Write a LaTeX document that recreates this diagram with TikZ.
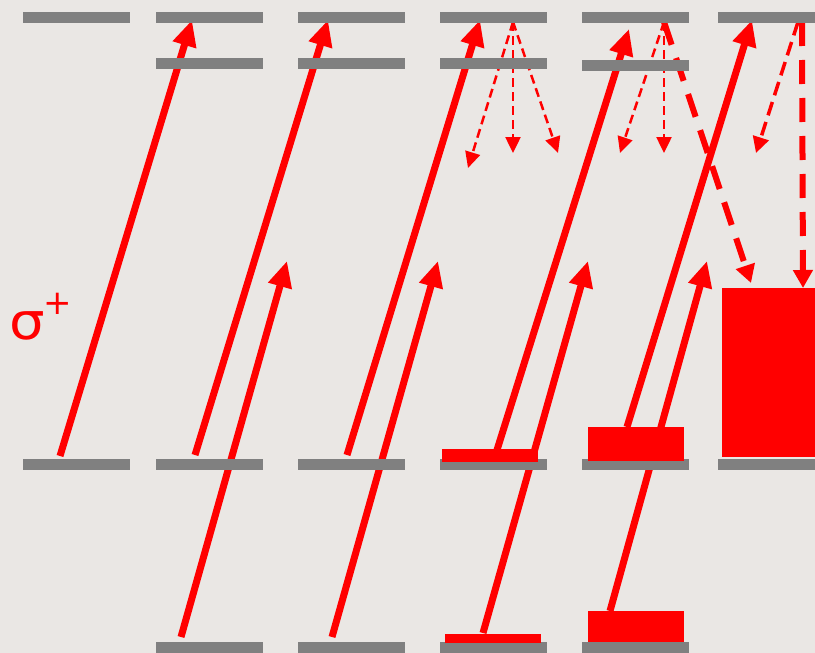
\documentclass[tikz,border=0pt]{standalone}
\usepackage{fontspec}
\newfontfamily\symfont{DejaVu Sans}
\usetikzlibrary{arrows.meta}
\definecolor{bg}{RGB}{234,231,228}
\definecolor{levelgray}{RGB}{128,128,128}
\definecolor{laser}{RGB}{255,0,0}

\begin{document}
\begin{tikzpicture}[x=1pt,y=-1pt,
  level/.style={fill=levelgray},
  pop/.style={fill=laser},
  pump/.style={draw=laser,line width=7pt,-{Triangle[length=26pt,width=23pt]}},
  decay/.style={draw=laser,line width=2.5pt,dash pattern=on 9pt off 5pt,-{Triangle[length=16pt,width=15pt]}},
  decaymid/.style={draw=laser,line width=3.5pt,dash pattern=on 14pt off 7pt,-{Triangle[length=16pt,width=16pt]}},
  decaythick/.style={draw=laser,line width=6pt,dash pattern=on 24pt off 14pt,-{Triangle[length=18pt,width=19pt]}},
]
% canvas
\fill[bg] (0,0) rectangle (815,653);

% end points of the transitions
\coordinate (a1s) at (60,456);  \coordinate (a1e) at (192,20);
\coordinate (a2s) at (195,455); \coordinate (a2e) at (328,20);
\coordinate (a3s) at (347,455); \coordinate (a3e) at (480,20);
\coordinate (a4s) at (497,450); \coordinate (a4e) at (629,29);
\coordinate (a5s) at (627,427); \coordinate (a5e) at (752,20);
\coordinate (b1s) at (181,637); \coordinate (b1e) at (287,261);
\coordinate (b2s) at (332,637); \coordinate (b2e) at (438,261);
\coordinate (b3s) at (483,633); \coordinate (b3e) at (588,261);
\coordinate (b4s) at (610,611); \coordinate (b4e) at (707,261);

\coordinate (u4) at (513,22);
\coordinate (d4l) at (468,168); \coordinate (d4m) at (513,153); \coordinate (d4r) at (558,153);
\coordinate (u5) at (664,22);
\coordinate (d5l) at (620,153); \coordinate (d5m) at (664,153); \coordinate (d5r) at (751,283);
\coordinate (u6a) at (798,22); \coordinate (u6b) at (802,22);
\coordinate (d6l) at (756,153); \coordinate (d6m) at (803,288);

% pump transitions
\foreach \t in {a1,a2,a3,a4,a5,b1,b2,b3,b4}
  \draw[pump] (\t s) -- (\t e);

% spontaneous decay
\draw[decay] (u4) -- (d4l);
\draw[decay] (u4) -- (d4m);
\draw[decay] (u4) -- (d4r);
\draw[decay] (u5) -- (d5l);
\draw[decay] (u5) -- (d5m);
\draw[decaymid] (u6a) -- (d6l);

% stimulated decay into the gain level
\draw[decaythick] (u5) -- (d5r);
\draw[decaythick] (u6b) -- (d6m);

% energy levels
\foreach \xa/\xb in {23/130,156/263,298/405,440/547,582/689,718/815} {
  \fill[level] (\xa,12) rectangle (\xb,23);
  \fill[level] (\xa,459) rectangle (\xb,470);
}
\foreach \xa/\xb in {156/263,298/405,440/547} {
  \fill[level] (\xa,58) rectangle (\xb,69);
  \fill[level] (\xa,642) rectangle (\xb,653);
}
\fill[level] (582,60) rectangle (689,71);
\fill[level] (582,642) rectangle (689,653);

% populations
\fill[pop] (442,449) rectangle (538,462);
\fill[pop] (445,634) rectangle (541,643);
\fill[pop] (588,427) rectangle (684,461);
\fill[pop] (588,611) rectangle (684,642);
\fill[pop] (722,288) rectangle (815,457);

% polarisation label
\node[text=laser,font=\symfont\fontsize{51}{51}\selectfont,anchor=base west,inner sep=0pt,xscale=1.1] (sigma) at (9,339) {σ};
\node[text=laser,font=\symfont\fontsize{34}{34}\selectfont,anchor=center,inner sep=0pt] (plus) at (58,304) {+};
\end{tikzpicture}
\end{document}
